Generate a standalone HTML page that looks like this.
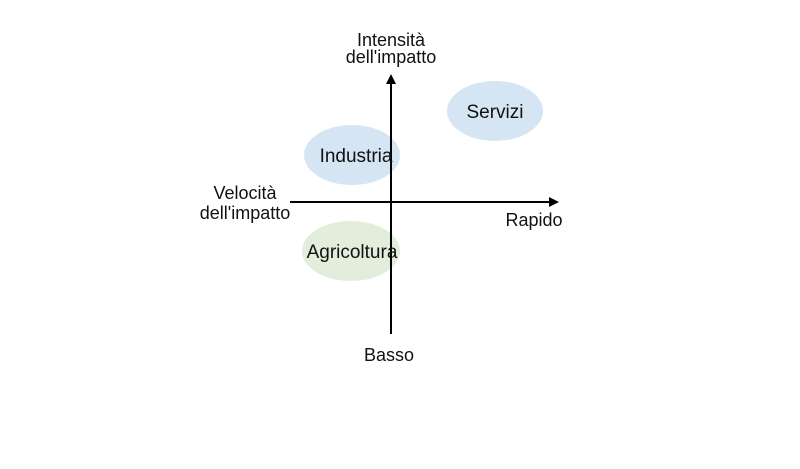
<!DOCTYPE html>
<html><head><meta charset="utf-8"><style>html,body{margin:0;padding:0;background:#fff}</style></head>
<body>
<svg width="800" height="464" xmlns="http://www.w3.org/2000/svg" font-family="Liberation Sans, sans-serif" font-size="18" fill="#111">
<rect width="800" height="464" fill="#fff"/>
<ellipse cx="495" cy="111" rx="48" ry="30" fill="#d5e5f4"/>
<ellipse cx="352" cy="155" rx="48" ry="30" fill="#d5e5f4"/>
<ellipse cx="351" cy="251" rx="49" ry="30" fill="#e2eedb"/>
<line x1="391" y1="334" x2="391" y2="80" stroke="#000" stroke-width="2"/>
<polygon points="391,74 386,84 396,84" fill="#000"/>
<line x1="290" y1="202" x2="552" y2="202" stroke="#000" stroke-width="2"/>
<polygon points="559,202 549,197 549,207" fill="#000"/>
<g text-anchor="middle">
<text x="391" y="46">Intensità</text>
<text x="391" y="63">dell'impatto</text>
<text x="495" y="118" font-size="19">Servizi</text>
<text x="356" y="162" font-size="19">Industria</text>
<text x="352" y="258" font-size="19">Agricoltura</text>
<text x="245" y="199">Velocità</text>
<text x="245" y="219">dell'impatto</text>
<text x="534" y="226">Rapido</text>
<text x="389" y="361">Basso</text>
</g>
</svg>
</body></html>
